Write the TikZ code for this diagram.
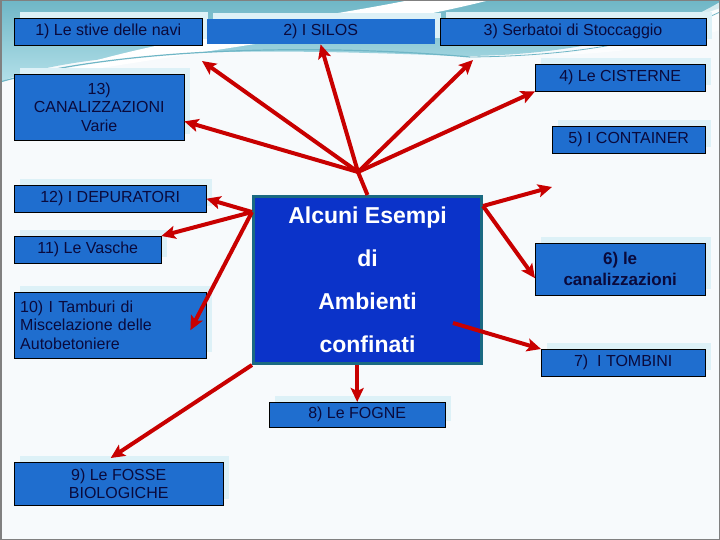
\documentclass[tikz,border=0pt]{standalone}
\usepackage{fontspec}
\setmainfont{Liberation Sans}
\usetikzlibrary{positioning, arrows.meta, shadows, calc}

\definecolor{boxblue}{HTML}{1F6ECF}
\definecolor{coreblue}{HTML}{0B33C9}
\definecolor{coreedge}{HTML}{1B6A82}
\definecolor{inkblue}{HTML}{0A0A3C}
\definecolor{arrowred}{HTML}{C80000}
\definecolor{halo}{HTML}{DDF1F7}
\definecolor{skycyan}{HTML}{B3E0E9}
\definecolor{skyteal}{HTML}{6FB6C6}
\definecolor{paper}{HTML}{F7FAFC}

\begin{document}
\begin{tikzpicture}[
    x=1pt, y=-1pt,
    node distance=4pt and 4pt,
    item/.style={draw=black, fill=boxblue, text=inkblue, minimum height=27pt,
        inner sep=2pt, align=center, anchor=north west,
        font=\fontsize{16}{18.5}\selectfont,
        general shadow={fill=halo, shadow xshift=6pt, shadow yshift=6pt}},
    core/.style={draw=coreedge, line width=3pt, fill=coreblue, text=white,
        align=center, anchor=north west, minimum width=228pt, minimum height=167pt,
        font=\fontsize{23}{43}\selectfont\bfseries},
    arrow/.style={-{Stealth[length=14pt, width=13pt, inset=3pt]}, line width=4pt, arrowred}
]
    \useasboundingbox (0,0) rectangle (720,540);

    % background
    \fill[paper] (0,0) rectangle (720,540);
    \shade[top color=skyteal, bottom color=skycyan]
        (0,0) -- (720,0) -- (720,8) .. controls (620,45) and (540,56) .. (460,56)
        .. controls (300,50) and (90,44) .. (0,82) -- cycle;
    \fill[white] (40,78) .. controls (150,38) and (300,22) .. (410,0) -- (490,0)
        .. controls (380,28) and (220,48) .. (40,78);
    \fill[white, opacity=0.7] (560,55) .. controls (640,40) and (690,20) .. (720,2)
        -- (720,30) .. controls (690,40) and (640,52) .. (560,55);
    \draw[skyteal, line width=1.2pt] (0,82) .. controls (110,50) and (300,42) .. (470,57);
    \draw[skyteal, line width=0.8pt] (470,57) .. controls (580,56) and (660,40) .. (720,12);

    % boxes
    \node[item, minimum width=188pt] (n1) at (14,18) {1) Le stive delle navi};
    \node[item, draw=none, minimum width=228pt, minimum height=25pt, right=4pt of n1] (n2) {2) I SILOS};
    \node[item, minimum width=266pt, right=5pt of n2] (n3) {3) Serbatoi di Stoccaggio};
    \node[item, minimum width=170pt] (n4) at (535,64) {4) Le CISTERNE};
    \node[item, minimum width=153pt] (n5) at (552,126) {5) I CONTAINER};
    \node[item, minimum width=170pt, minimum height=66pt] (n13) at (14,74) {13)\\CANALIZZAZIONI\\Varie};
    \node[item, minimum width=192pt] (n12) at (14,185) {12) I DEPURATORI};
    \node[item, minimum width=147pt] (n11) at (14,236) {11) Le Vasche};
    \node[item, align=left, text width=180pt, inner xsep=6pt, minimum height=66pt] (n10) at (14,292)
        {10) I Tamburi di\\Miscelazione delle\\Autobetoniere};
    \node[item, minimum width=170pt, minimum height=52pt, font=\fontsize{17}{21}\selectfont\bfseries] (n6) at (535,243)
        {6) le\\canalizzazioni};
    \node[item, minimum width=164pt] (n7) at (541,349) {7)\ \ I TOMBINI};
    \node[item, minimum width=176pt, minimum height=25pt] (n8) at (269,402) {8) Le FOGNE};
    \node[item, minimum width=209pt, minimum height=43pt, font=\fontsize{16}{18}\selectfont] (n9) at (14,462)
        {9) Le FOSSE\\BIOLOGICHE};

    \node[core] (core) at (252,195) {Alcuni Esempi\\di\\Ambienti\\confinati};

    % connectors
    \coordinate (hub) at (358,172);
    \coordinate (t1) at (202,61);
    \coordinate (t3) at (473,60);
    \coordinate (t5) at (552,187);
    \coordinate (west) at ($(core.north west)+(0,17)$);
    \coordinate (east) at ($(core.north east)+(0,11)$);

    \draw[arrowred, line width=4pt] (core.north) -- (hub);
    \foreach \tip in {t1, n2.south, t3, n4.south west}
        \draw[arrow] (hub) -- (\tip);
    \draw[arrow] (hub) -- ($(n13.south east)+(0,-19)$);

    \draw[arrow] (west) -- (n12.east);
    \draw[arrow] (west) -- (n11.north east);
    \draw[arrow] (west) -- ($(n10.east)+(-16,5)$);
    \draw[arrow] (core.south west) -- ($(n9.north)+(-8,-4)$);
    \draw[arrow] (core.south -| n8.north) -- (n8.north);

    \draw[arrow] (east) -- (t5);
    \draw[arrow] (east) -- ($(n6.west)+(0,9)$);
    \draw[arrow] ($(core.south east)+(-30,-42)$) -- (n7.north west);

    \draw[gray, line width=1.5pt] (0.75,0.75) rectangle (719.25,539.25);
\end{tikzpicture}
\end{document}
